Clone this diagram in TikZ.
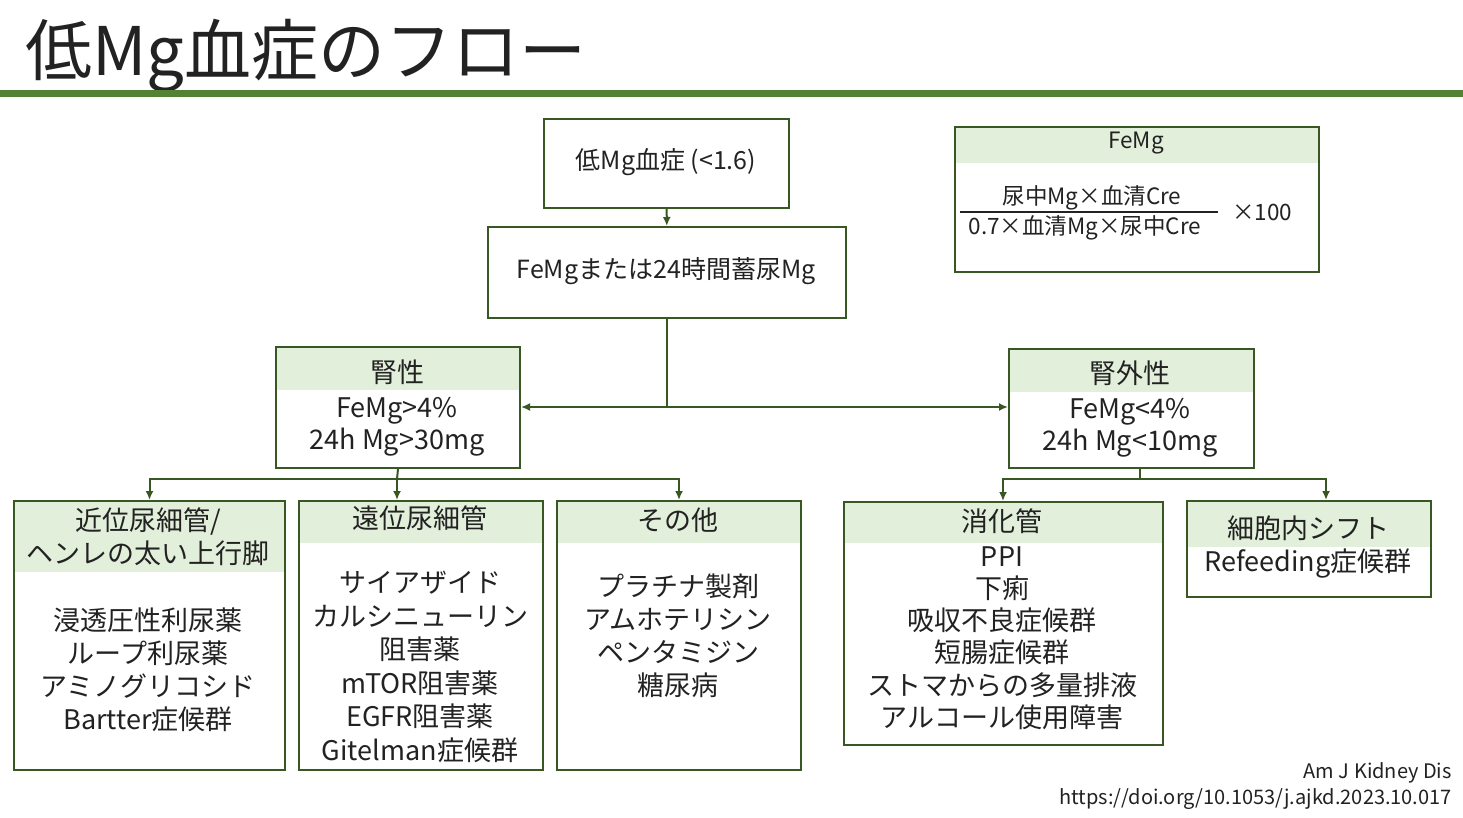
\documentclass[tikz,border=0pt]{standalone}
\usepackage{fontspec}
\setmainfont{Noto Sans CJK JP}
\usetikzlibrary{arrows.meta}
\definecolor{bord}{RGB}{56,87,35}
\definecolor{bar}{RGB}{84,130,53}
\definecolor{hdr}{RGB}{226,239,218}
\definecolor{tcol}{RGB}{34,34,34}
\begin{document}
\begin{tikzpicture}[x=1pt,y=-1pt,
  box/.style={draw=bord, line width=2pt, anchor=north west, inner sep=0pt},
  hfill/.style={fill=hdr},
  txt/.style={font=\fontsize{27}{33}\selectfont, align=center, text=tcol, inner sep=0pt},
  stxt/.style={font=\fontsize{22.5}{28}\selectfont, align=center, text=tcol, inner sep=0pt},
  conn/.style={draw=bord, line width=2pt},
  arr/.style={conn, -{Latex[length=9pt,width=8pt]}},
  darr/.style={conn, {Latex[length=9pt,width=8pt]}-{Latex[length=9pt,width=8pt]}}
]
\useasboundingbox (0,0) rectangle (1463,818);
\fill[white] (0,0) rectangle (1463,818);

% title
\node[anchor=west, inner sep=0pt, text=tcol, font=\fontsize{67}{72}\selectfont] (title) at (25,56) {低Mg血症のフロー};
\fill[bar] (0,90) rectangle (1463,97);

% top boxes
\node[box, minimum width=245pt, minimum height=89pt] (b1) at (543,118) {};
\node[txt, font=\fontsize{25}{30}\selectfont] (b1t) at (666,162) {低Mg血症 (<1.6)};
\node[box, minimum width=358pt, minimum height=91pt] (b2) at (487,226) {};
\node[txt, font=\fontsize{25}{30}\selectfont] (b2t) at (666,271) {FeMgまたは24時間蓄尿Mg};

% FeMg box
\fill[hfill] (954,126) rectangle (1318,163);
\node[box, minimum width=364pt, minimum height=145pt] (fm) at (954,126) {};
\node[stxt] (fmh) at (1136,143) {FeMg};
\node[stxt] (fmn) at (1092,198) {尿中Mg×血清Cre};
\node[stxt] (fmd) at (1085,228) {0.7×血清Mg×尿中Cre};
\draw[line width=1.6pt, tcol] (960,212) -- (1218,212);
\node[stxt] (fmx) at (1262,212) {×100};

% renal
\fill[hfill] (275,346) rectangle (519,390);
\node[box, minimum width=244pt, minimum height=121pt] (renal) at (275,346) {};
\node[txt] (renalh) at (397,372) {腎性};
\node[txt, font=\fontsize{27}{32}\selectfont] (renalb) at (397,427) {FeMg>4\%\\24h Mg>30mg};

% extra-renal
\fill[hfill] (1008,348) rectangle (1253,392);
\node[box, minimum width=245pt, minimum height=119pt] (extra) at (1008,348) {};
\node[txt] (extrah) at (1130,373) {腎外性};
\node[txt, font=\fontsize{27}{32}\selectfont] (extrab) at (1130,428) {FeMg<4\%\\24h Mg<10mg};

% proximal
\fill[hfill] (13,500) rectangle (284,572);
\node[box, minimum width=271pt, minimum height=269pt] (prox) at (13,500) {};
\node[txt] (proxh) at (148,537) {近位尿細管/\\ヘンレの太い上行脚};
\node[txt] (proxb) at (148,670) {浸透圧性利尿薬\\ループ利尿薬\\アミノグリコシド\\Bartter症候群};

% distal
\fill[hfill] (298,500) rectangle (542,543);
\node[box, minimum width=244pt, minimum height=269pt] (dist) at (298,500) {};
\node[txt] (disth) at (420,518) {遠位尿細管};
\node[txt, font=\fontsize{27}{33.5}\selectfont] (distb) at (420,667) {サイアザイド\\カルシニューリン\\阻害薬\\mTOR阻害薬\\EGFR阻害薬\\Gitelman症候群};

% other
\fill[hfill] (556,500) rectangle (800,543);
\node[box, minimum width=244pt, minimum height=269pt] (other) at (556,500) {};
\node[txt] (otherh) at (678,520) {その他};
\node[txt] (otherb) at (678,636) {プラチナ製剤\\アムホテリシン\\ペンタミジン\\糖尿病};

% GI
\fill[hfill] (843,501) rectangle (1162,543);
\node[box, minimum width=319pt, minimum height=243pt] (gi) at (843,501) {};
\node[txt] (gih) at (1002,521) {消化管};
\node[txt, font=\fontsize{27}{32.3}\selectfont] (gib) at (1002,638) {PPI\\下痢\\吸収不良症候群\\短腸症候群\\ストマからの多量排液\\アルコール使用障害};

% shift
\fill[hfill] (1186,500) rectangle (1430,547);
\node[box, minimum width=244pt, minimum height=96pt] (shift) at (1186,500) {};
\node[txt] (shifth) at (1308,528) {細胞内シフト};
\node[txt] (shiftb) at (1308,564) {Refeeding症候群};

% citation
\node[anchor=east, inner sep=0pt, text=tcol, font=\fontsize{20}{24}\selectfont] (cit1) at (1452,773) {Am J Kidney Dis};
\node[anchor=east, inner sep=0pt, text=tcol, font=\fontsize{20}{24}\selectfont] (cit2) at (1452,799) {https://doi.org/10.1053/j.ajkd.2023.10.017};

% connectors
\coordinate (split) at (666,407);
\coordinate (rj) at (397,479);
\coordinate (ej) at (1140,479);
\draw[arr] (b1) -- (b2);
\draw[conn] (b2.south) -- (b2.south |- split);
\draw[darr] (renal.east |- split) -- (split -| extra.west);
\draw[conn] (renal.south) -- (rj);
\draw[arr] (rj) -| (prox.north);
\draw[arr] (rj) -- (rj |- dist.north);
\draw[arr] (rj) -| (other.north);
\draw[conn] (ej |- extra.south) -- (ej);
\draw[arr] (ej) -| (gi.north -| 1003,0);
\draw[arr] (ej) -| (shift.north -| 1326,0);
\end{tikzpicture}
\end{document}
